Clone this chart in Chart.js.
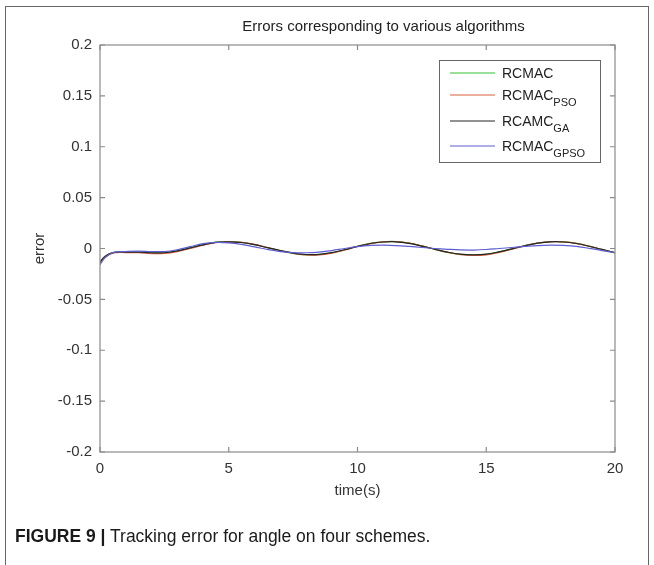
<!DOCTYPE html>
<html>
<head>
<meta charset="utf-8">
<script src="https://cdn.jsdelivr.net/npm/chart.js@4/dist/chart.umd.min.js"></script>
<style>
  body { margin: 0; background: #fff; }
  #wrap { position: relative; width: 654px; height: 565px; overflow: hidden; background: #fff; }
  #frame { position: absolute; left: 5px; top: 6px; width: 642px; height: 600px; border: 1.5px solid #666; }
  #c { position: absolute; left: 0; top: 0; }
  #caption { position: absolute; left: 15px; top: 526px; font-family: "Liberation Sans", Arial, sans-serif; font-size: 17.5px; color: #1a1a1a; white-space: nowrap; }
  #caption b { font-weight: bold; }
</style>
</head>
<body>
<div id="wrap">
  <div id="frame"></div>
  <canvas id="c" width="654" height="565"></canvas>
  <div id="caption"><b>FIGURE 9 |</b> Tracking error for angle on four schemes.</div>
</div>
<script>
const time = [0, 0.2, 0.5, 1, 1.5, 2, 2.5, 3, 3.5, 4, 4.5, 5, 5.5, 6, 6.5, 7, 7.5, 8, 8.5, 9, 9.5,
  10, 10.5, 11, 11.5, 12, 12.5, 13, 13.5, 14, 14.5, 15, 15.5, 16, 16.5, 17, 17.5, 18, 18.5, 19, 19.5, 20];

const rcmac = [-0.015, -0.008, -0.004, -0.0035, -0.0035, -0.004, -0.004, -0.0022, 0.0008, 0.0038,
  0.0062, 0.0068, 0.006, 0.0038, 0.0008, -0.0022, -0.0048, -0.0062, -0.006, -0.0042,
  -0.0012, 0.0022, 0.005, 0.0066, 0.0068, 0.0052, 0.0024, -0.0008, -0.0038, -0.0058,
  -0.0065, -0.0058, -0.0034, -0.0004, 0.0028, 0.0054, 0.0068, 0.0066, 0.005, 0.0022,
  -0.001, -0.0042];

const rcmacPso = [-0.014, -0.0085, -0.0045, -0.004, -0.0042, -0.005, -0.0048, -0.003, 0, 0.0032,
  0.0058, 0.0066, 0.006, 0.004, 0.001, -0.002, -0.0048, -0.0064, -0.0064, -0.0046,
  -0.0015, 0.002, 0.0048, 0.0065, 0.0068, 0.0054, 0.0026, -0.0007, -0.0038, -0.006,
  -0.0068, -0.0062, -0.0038, -0.0006, 0.0026, 0.0053, 0.0067, 0.0066, 0.0051, 0.0023,
  -0.001, -0.0044];

const rcamcGa = [-0.013, -0.0075, -0.004, -0.0035, -0.0036, -0.0042, -0.0042, -0.0024, 0.0006, 0.0036,
  0.006, 0.0066, 0.0059, 0.0038, 0.0009, -0.002, -0.0045, -0.0059, -0.0058, -0.0041,
  -0.0012, 0.0021, 0.0049, 0.0064, 0.0066, 0.0051, 0.0024, -0.0007, -0.0036, -0.0056,
  -0.0062, -0.0056, -0.0033, -0.0004, 0.0027, 0.0052, 0.0066, 0.0064, 0.0049, 0.0022,
  -0.0009, -0.004];

const rcmacGpso = [-0.016, -0.009, -0.004, -0.003, -0.0025, -0.003, -0.003, -0.0012, 0.0018, 0.0048,
  0.006, 0.0056, 0.004, 0.0016, -0.001, -0.003, -0.004, -0.0042, -0.0036, -0.002,
  0, 0.0018, 0.003, 0.0033, 0.0029, 0.002, 0.001, 0, -0.0008, -0.0014,
  -0.0015, -0.001, 0, 0.001, 0.002, 0.0029, 0.0033, 0.003, 0.002, 0.0002,
  -0.002, -0.0042];

const seriesNames = ['RCMAC', 'RCMAC', 'RCAMC', 'RCMAC'];
const seriesSubs = ['', 'PSO', 'GA', 'GPSO'];
const seriesColors = ['#35c435', '#d9603e', '#262626', '#5e5ed2'];

const xTicks = [0, 5, 10, 15, 20];
const yTicks = [-0.2, -0.15, -0.1, -0.05, 0, 0.05, 0.1, 0.15, 0.2];

const chartTitle = 'Errors corresponding to various algorithms';
const xTitle = 'time(s)';
const yTitle = 'error';

const FONT = '"Liberation Sans", Arial, sans-serif';
const allSeries = [rcmac, rcmacPso, rcamcGa, rcmacGpso];

const datasets = allSeries.map((vals, i) => ({
  label: seriesNames[i] + seriesSubs[i],
  data: vals.map((v, k) => ({ x: time[k], y: v })),
  borderColor: seriesColors[i],
  backgroundColor: seriesColors[i],
  borderWidth: 1.2,
  pointRadius: 0,
  tension: 0.4,
  fill: false,
  order: allSeries.length - i
}));

// axes box, inward ticks, titles and the legend with subscripts
const matlabLook = {
  id: 'matlabLook',
  afterDraw(chart) {
    const ctx = chart.ctx;
    const a = chart.chartArea;
    const xs = chart.scales.x;
    const ys = chart.scales.y;
    ctx.save();
    ctx.strokeStyle = '#8a8a8a';
    ctx.lineWidth = 1.2;
    ctx.strokeRect(a.left, a.top, a.right - a.left, a.bottom - a.top);
    ctx.beginPath();
    xTicks.forEach(t => {
      const px = xs.getPixelForValue(t);
      ctx.moveTo(px, a.bottom); ctx.lineTo(px, a.bottom - 5);
      ctx.moveTo(px, a.top); ctx.lineTo(px, a.top + 5);
    });
    yTicks.forEach(t => {
      const py = ys.getPixelForValue(t);
      ctx.moveTo(a.left, py); ctx.lineTo(a.left + 5, py);
      ctx.moveTo(a.right, py); ctx.lineTo(a.right - 5, py);
    });
    ctx.stroke();

    ctx.fillStyle = '#222';
    ctx.font = '15px ' + FONT;
    ctx.textAlign = 'center';
    ctx.textBaseline = 'middle';
    ctx.fillText(chartTitle, (a.left + a.right) / 2 + 26, 27);
    ctx.fillStyle = '#333';
    ctx.fillText(xTitle, (a.left + a.right) / 2, 491);
    ctx.save();
    ctx.translate(40, (a.top + a.bottom) / 2);
    ctx.rotate(-Math.PI / 2);
    ctx.fillText(yTitle, 0, 0);
    ctx.restore();

    // legend
    const lx = 439, ly = 60, lw = 161, lh = 102;
    ctx.fillStyle = '#fff';
    ctx.fillRect(lx, ly, lw, lh);
    ctx.strokeStyle = '#666';
    ctx.lineWidth = 1;
    ctx.strokeRect(lx + 0.5, ly + 0.5, lw, lh);
    const rows = [73, 95, 121, 146];
    ctx.textAlign = 'left';
    ctx.textBaseline = 'alphabetic';
    seriesNames.forEach((name, i) => {
      const y = rows[i];
      ctx.strokeStyle = seriesColors[i];
      ctx.lineWidth = 1.2;
      ctx.beginPath();
      ctx.moveTo(450, y); ctx.lineTo(495, y);
      ctx.stroke();
      ctx.fillStyle = '#222';
      ctx.font = '14px ' + FONT;
      ctx.fillText(name, 502, y + 5);
      const w = ctx.measureText(name).width;
      if (seriesSubs[i]) {
        ctx.font = '11px ' + FONT;
        ctx.fillText(seriesSubs[i], 502 + w, y + 11);
      }
    });
    ctx.restore();
  }
};

new Chart(document.getElementById('c'), {
  type: 'line',
  data: { datasets: datasets },
  options: {
    responsive: false,
    animation: false,
    layout: { padding: { left: 0, top: 45, right: 39, bottom: 83 } },
    plugins: {
      legend: { display: false },
      tooltip: { enabled: false },
      title: { display: false }
    },
    scales: {
      x: {
        type: 'linear',
        min: 0,
        max: 20,
        afterBuildTicks: s => { s.ticks = xTicks.map(v => ({ value: v })); },
        afterFit: s => { s.height = 30; },
        grid: { display: false, drawTicks: false },
        border: { display: false },
        ticks: { padding: 8, color: '#333', font: { family: FONT, size: 15 }, maxRotation: 0, autoSkip: false, callback: v => String(v) }
      },
      y: {
        type: 'linear',
        min: -0.2,
        max: 0.2,
        afterBuildTicks: s => { s.ticks = yTicks.map(v => ({ value: v })); },
        afterFit: s => { s.width = 100; },
        grid: { display: false, drawTicks: false },
        border: { display: false },
        ticks: { padding: 8, color: '#333', font: { family: FONT, size: 15 }, autoSkip: false, callback: v => String(v) }
      }
    }
  },
  plugins: [matlabLook]
});
</script>
</body>
</html>
